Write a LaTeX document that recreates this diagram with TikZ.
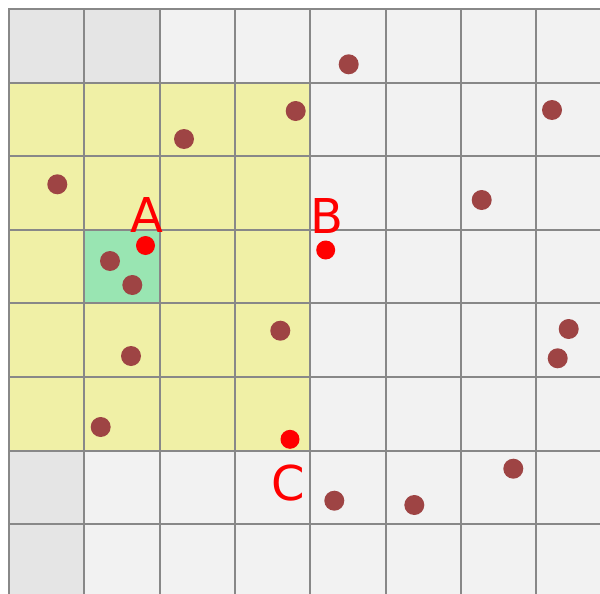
\documentclass[tikz,border=0pt]{standalone}
\usepackage{fontspec}
\setmainfont{DejaVu Sans}
\definecolor{cellL}{RGB}{242,242,242}
\definecolor{cellD}{RGB}{229,229,229}
\definecolor{yel}{RGB}{240,240,166}
\definecolor{grn}{RGB}{153,229,178}
\definecolor{gline}{RGB}{136,136,136}
\definecolor{brn}{RGB}{158,68,68}
\definecolor{rd}{RGB}{255,0,0}
\begin{document}
\begin{tikzpicture}[x=1pt,y=-1pt,
  gridline/.style={draw=gline,line width=2pt,line cap=rect},
  dotb/.style={circle,fill=brn,inner sep=0pt,minimum size=20pt},
  dotr/.style={circle,fill=rd,inner sep=0pt,minimum size=19pt},
  lbl/.style={text=rd,inner sep=0pt,font=\fontsize{48}{48}\selectfont}]
\useasboundingbox (0,0) rectangle (600,594);
\begin{scope}
\clip (0,0) rectangle (600,594);
\fill[cellL] (9,9) rectangle (611.4,597.8);
\fill[cellD] (9,9) rectangle (159.6,82.6);
\fill[cellD] (9,450.6) rectangle (84.3,597.8);
\fill[yel] (9,82.6) rectangle (310.2,450.6);
\fill[grn] (84.3,229.8) rectangle (159.6,303.4);
\foreach \i in {0,...,8} \draw[gridline] ({9+75.3*\i},9) -- ({9+75.3*\i},597.8);
\foreach \j in {0,...,8} \draw[gridline] (9,{9+73.6*\j}) -- (611.4,{9+73.6*\j});
\end{scope}
% brown points
\node[dotb] (p1) at (348.7,64.3) {};
\node[dotb] (p2) at (295.7,111) {};
\node[dotb] (p3) at (184,139) {};
\node[dotb] (p4) at (57.3,184.3) {};
\node[dotb] (p5) at (552,110) {};
\node[dotb] (p6) at (481.7,200) {};
\node[dotb] (p7) at (110,261) {};
\node[dotb] (p8) at (132.3,285) {};
\node[dotb] (p9) at (280.3,330.7) {};
\node[dotb] (p10) at (131,356) {};
\node[dotb] (p11) at (568.7,329) {};
\node[dotb] (p12) at (557.7,358.3) {};
\node[dotb] (p13) at (100.7,427) {};
\node[dotb] (p14) at (513.3,468.7) {};
\node[dotb] (p15) at (334.3,500.7) {};
\node[dotb] (p16) at (414.3,505) {};
% red points
\node[dotr] (a) at (145.5,245.5) {};
\node[dotr] (b) at (325.7,250) {};
\node[dotr] (c) at (290,439.3) {};
\node[lbl] (la) at (146.7,215) {A};
\node[lbl] (lb) at (327,216.5) {B};
\node[lbl] (lc) at (288.5,483) {C};
\end{tikzpicture}
\end{document}
